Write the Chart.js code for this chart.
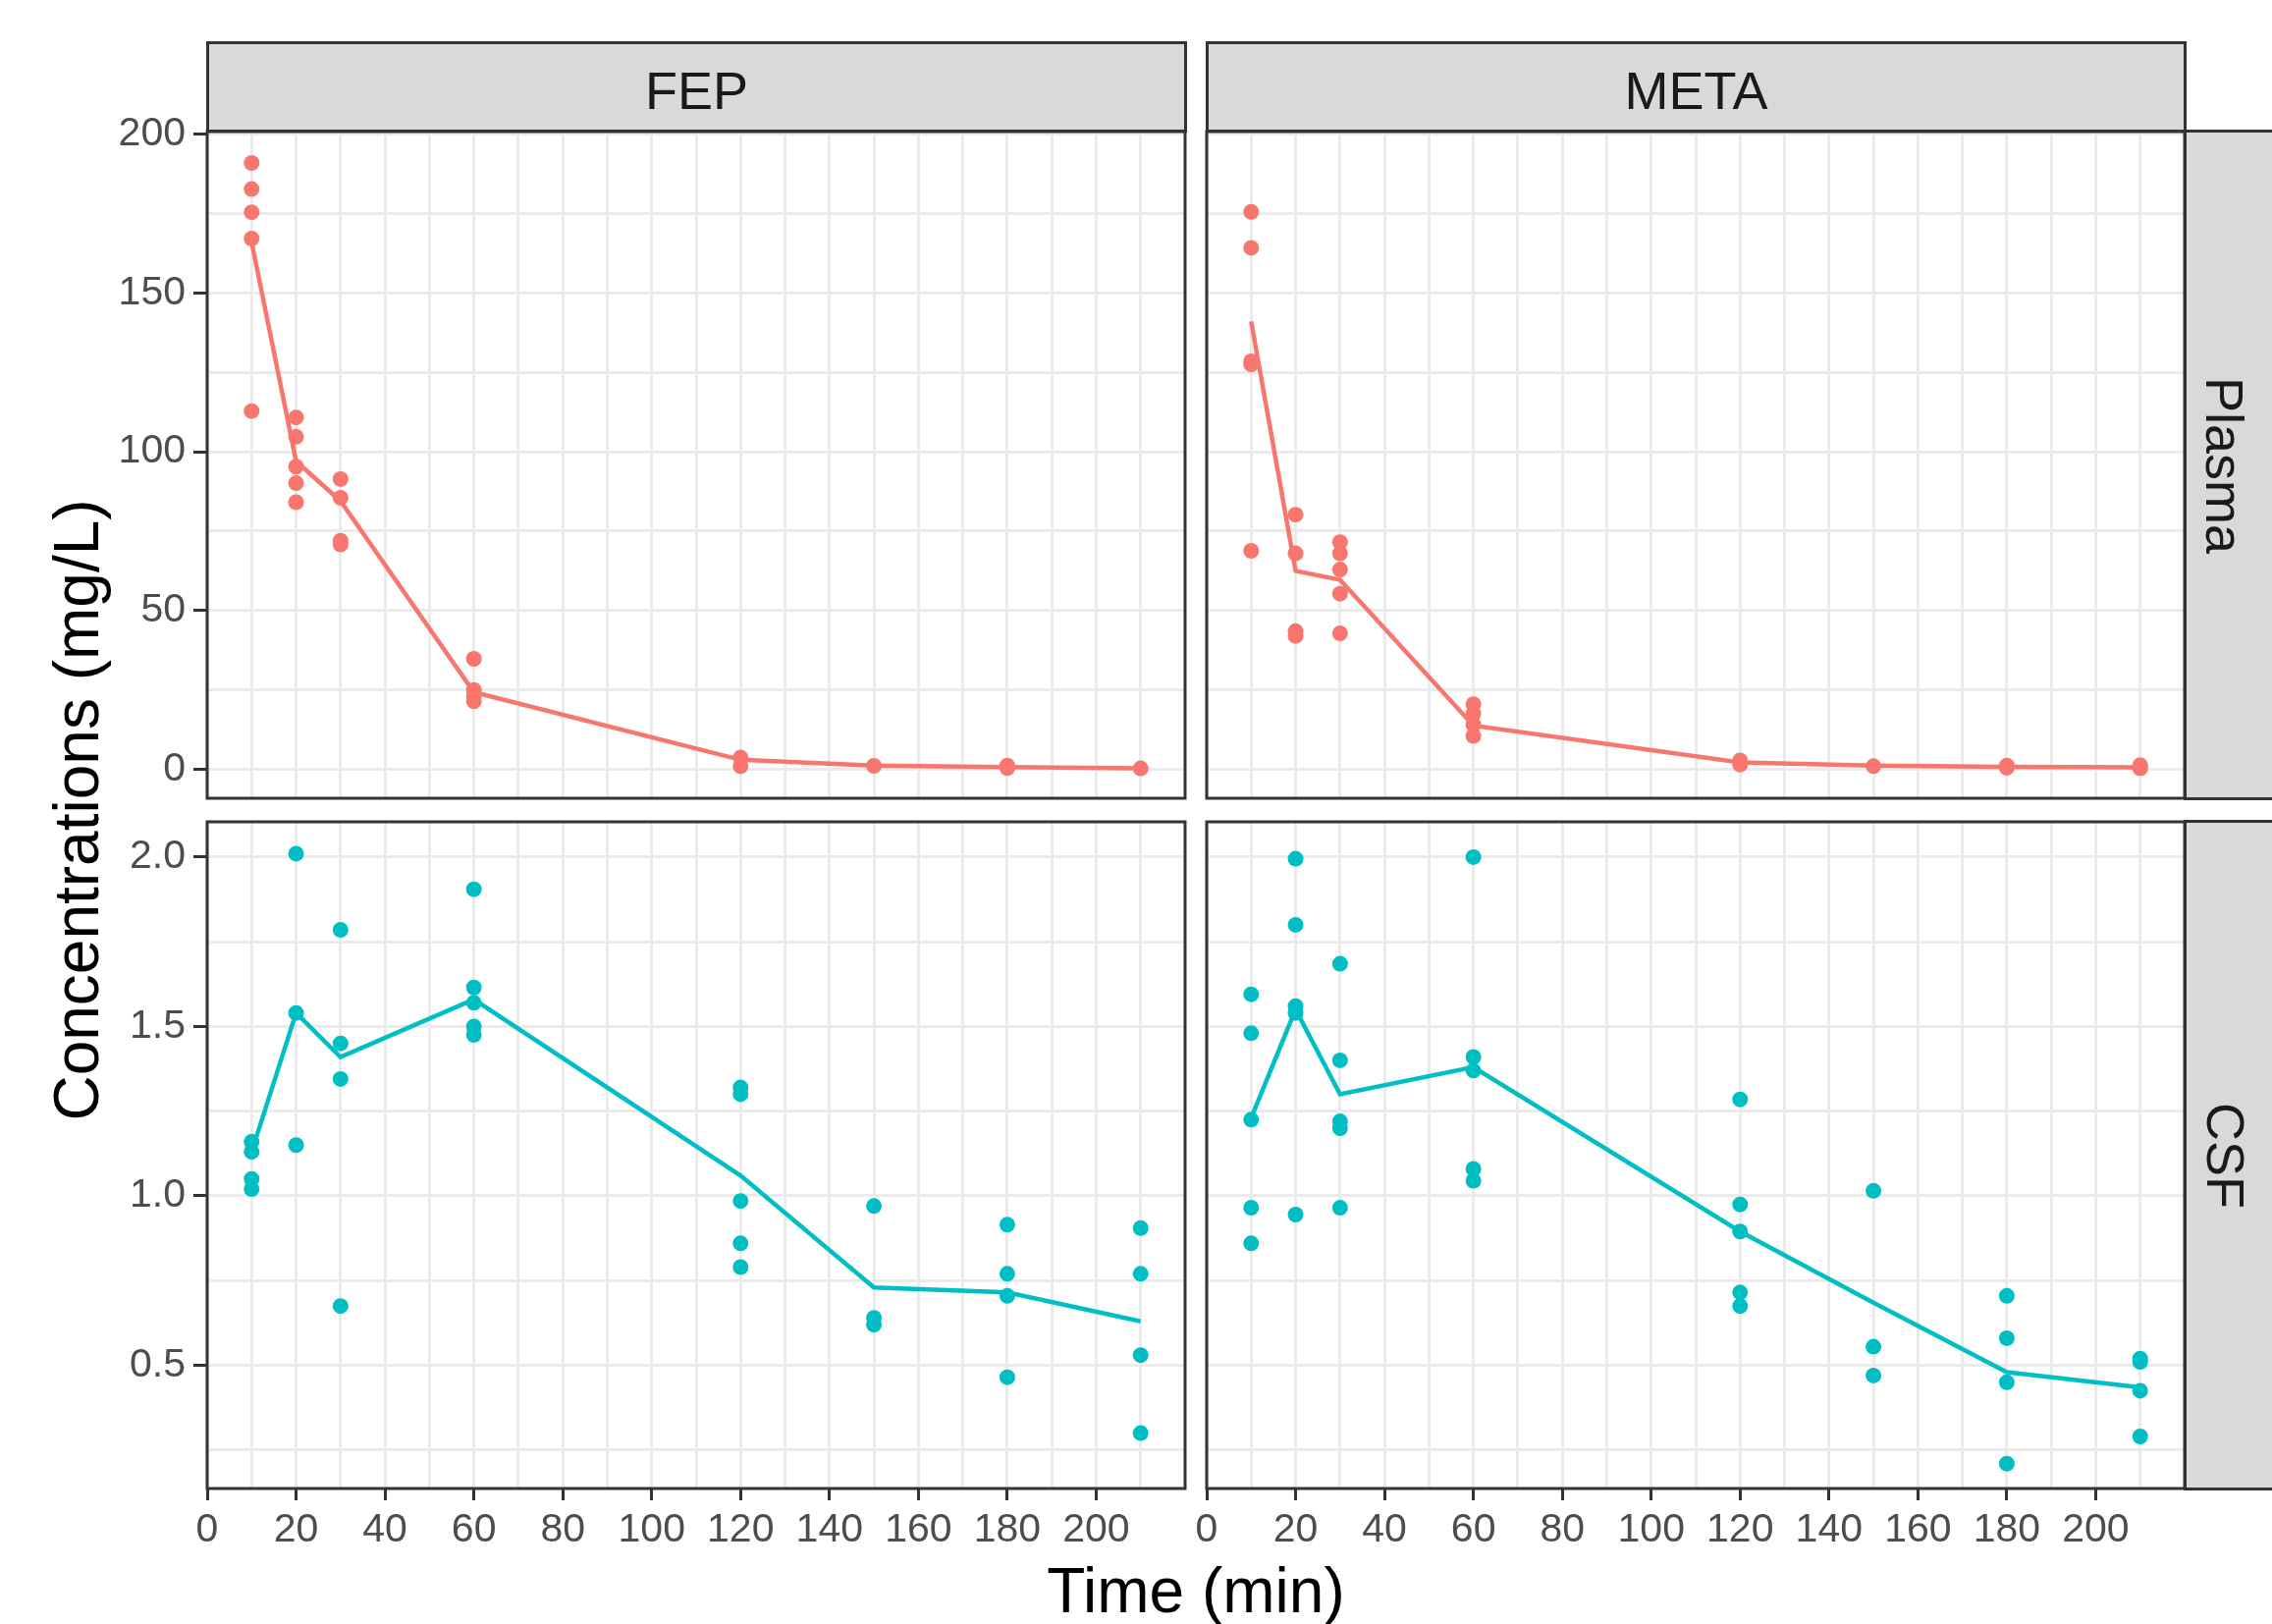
<!DOCTYPE html>
<html>
<head>
<meta charset="utf-8">
<title>FEP and META concentrations</title>
<script src="https://cdn.jsdelivr.net/npm/chart.js@4.4.1/dist/chart.umd.min.js"></script>
<style>
  html, body { margin: 0; padding: 0; background: #fff; }
  body { width: 2314px; height: 1654px; position: relative; overflow: hidden;
         font-family: "Liberation Sans", Arial, sans-serif; }
  canvas.panel { position: absolute; left: 0; top: 0; }
  .strip { position: absolute; box-sizing: border-box; background: #d9d9d9; border: 3px solid #333;
           display: flex; align-items: center; justify-content: center; color: #1a1a1a; font-size: 54px; }
  .strip.top { padding-top: 7px; }
  .strip.side { padding-right: 11px; }
  .strip.side span { transform: rotate(90deg); white-space: nowrap; }
  .title { position: absolute; color: #000; font-size: 64px; line-height: 1; white-space: nowrap; text-align: center; }
</style>
</head>
<body>
<canvas class="panel" id="fepPlasma" width="2314" height="1654"></canvas>
<canvas class="panel" id="metaPlasma" width="2314" height="1654"></canvas>
<canvas class="panel" id="fepCsf" width="2314" height="1654"></canvas>
<canvas class="panel" id="metaCsf" width="2314" height="1654"></canvas>

<div class="strip top" style="left:210px;top:42px;width:999px;height:93px">FEP</div>
<div class="strip top" style="left:1228px;top:42px;width:999px;height:93px">META</div>
<div class="strip side" style="left:2224px;top:132px;width:96px;height:683px"><span>Plasma</span></div>
<div class="strip side" style="left:2224px;top:835px;width:96px;height:683px"><span>CSF</span></div>

<div class="title" style="left:211px;width:2014px;top:1588px">Time (min)</div>
<div class="title" style="left:-622px;width:1400px;top:793px;transform:rotate(-90deg)">Concentrations (mg/L)</div>

<script>
// sampling times (min)
const times = [10, 20, 30, 60, 120, 150, 180, 210];

// observed concentrations, one inner list per sampling time
const fepPlasma = [
  [190.9, 182.7, 175.4, 167.1, 112.8],
  [110.8, 104.7, 95.3, 90.1, 84.1],
  [91.4, 85.5, 72.0, 70.8],
  [34.8, 25.0, 23.0, 21.4],
  [3.7, 1.0],
  [1.1],
  [1.2, 0.4],
  [0.3]
];
const fepPlasmaMean = [166, 97, 84.5, 24.3, 3.0, 1.2, 0.7, 0.3];

const metaPlasma = [
  [175.5, 164.2, 128.5, 127.5, 68.8],
  [80.2, 68.0, 43.5, 42.0],
  [71.5, 68.0, 62.9, 55.3, 42.8],
  [20.5, 17.5, 14.0, 10.5],
  [2.8, 1.5],
  [1.0],
  [1.2, 0.5],
  [1.3, 0.3]
];
const metaPlasmaMean = [141, 62.5, 59.7, 13.8, 2.2, 1.2, 0.8, 0.6];

const fepCsf = [
  [1.16, 1.13, 1.05, 1.02],
  [2.01, 1.54, 1.15],
  [1.785, 1.45, 1.345, 0.675],
  [1.905, 1.615, 1.57, 1.50, 1.475],
  [1.32, 1.30, 0.985, 0.86, 0.79],
  [0.97, 0.64, 0.62],
  [0.915, 0.77, 0.705, 0.465],
  [0.905, 0.77, 0.53, 0.30]
];
const fepCsfMean = [1.13, 1.54, 1.41, 1.58, 1.06, 0.73, 0.715, 0.63];

const metaCsf = [
  [1.595, 1.48, 1.225, 0.965, 0.86],
  [1.995, 1.80, 1.56, 1.54, 0.945],
  [1.685, 1.40, 1.22, 1.20, 0.965],
  [2.00, 1.41, 1.37, 1.08, 1.045],
  [1.285, 0.975, 0.895, 0.715, 0.675],
  [1.015, 0.555, 0.47],
  [0.705, 0.58, 0.45, 0.21],
  [0.52, 0.51, 0.425, 0.29]
];
const metaCsfMean = [1.23, 1.55, 1.30, 1.38, 0.895, 0.685, 0.48, 0.435];

// axes
const xRange = [0, 220];
const xMajor = [0, 20, 40, 60, 80, 100, 120, 140, 160, 180, 200];
const xLabels = ['0', '20', '40', '60', '80', '100', '120', '140', '160', '180', '200'];
const xMinor = [10, 30, 50, 70, 90, 110, 130, 150, 170, 190, 210];

const plasmaRange = [-9.1, 200.8];
const plasmaMajor = [0, 50, 100, 150, 200];
const plasmaLabels = ['0', '50', '100', '150', '200'];
const plasmaMinor = [25, 75, 125, 175];

const csfRange = [0.1365, 2.104];
const csfMajor = [0.5, 1.0, 1.5, 2.0];
const csfLabels = ['0.5', '1.0', '1.5', '2.0'];
const csfMinor = [0.25, 0.75, 1.25, 1.75];

const RED = '#F8766D';
const TEAL = '#00BFC4';
const W = 2314, H = 1654;
const Y_AXIS_W = 200;   // room for y tick labels left of the panel
const X_AXIS_H = 100;   // room for x tick labels under the panel

Chart.defaults.font.family = '"Liberation Sans", Arial, sans-serif';

const sameVal = (a, b) => Math.abs(a - b) < 1e-9;

// draws the dark frame around each panel, on top of the data like ggplot
const panelFrame = {
  id: 'panelFrame',
  afterDatasetsDraw(chart) {
    const a = chart.chartArea;
    const ctx = chart.ctx;
    ctx.save();
    ctx.strokeStyle = '#333333';
    ctx.lineWidth = 3;
    ctx.strokeRect(a.left, a.top, a.right - a.left, a.bottom - a.top);
    ctx.restore();
  }
};

function axis(range, major, minor, labels, showLabels, size, tickLen, pad) {
  return {
    type: 'linear',
    min: range[0],
    max: range[1],
    afterBuildTicks: (scale) => {
      scale.ticks = major.concat(minor).sort((a, b) => a - b).map(v => ({ value: v }));
    },
    afterFit: (scale) => {
      if (scale.isHorizontal()) scale.height = size; else scale.width = size;
    },
    border: { display: false },
    grid: {
      color: '#EBEBEB',
      lineWidth: 3,
      drawTicks: showLabels,
      tickLength: tickLen,
      tickWidth: 3,
      tickColor: (ctx) => major.some(m => sameVal(m, ctx.tick.value)) ? '#333333' : 'rgba(0,0,0,0)'
    },
    ticks: {
      display: showLabels,
      autoSkip: false,
      maxRotation: 0,
      padding: pad,
      color: '#4D4D4D',
      font: { size: 41 },
      callback: (v) => {
        const i = major.findIndex(m => sameVal(m, v));
        return i >= 0 ? labels[i] : '';
      }
    }
  };
}

function makePanel(id, rect, obs, mean, color, yAxis, showX, showY) {
  const pts = [];
  times.forEach((t, i) => obs[i].forEach(v => pts.push({ x: t, y: v })));
  const line = times.map((t, i) => ({ x: t, y: mean[i] }));
  const xSize = showX ? X_AXIS_H : 0;
  const ySize = showY ? Y_AXIS_W : 0;

  new Chart(document.getElementById(id), {
    type: 'scatter',
    data: {
      datasets: [
        { data: pts, backgroundColor: color, borderWidth: 0, pointRadius: 8, pointHoverRadius: 8 },
        { data: line, showLine: true, borderColor: color, borderWidth: 4.5, pointRadius: 0, fill: false, tension: 0 }
      ]
    },
    options: {
      responsive: false,
      animation: false,
      devicePixelRatio: 1,
      layout: {
        autoPadding: false,
        padding: { left: rect[0] - ySize, top: rect[1], right: W - rect[2], bottom: H - rect[3] - xSize }
      },
      plugins: { legend: { display: false }, tooltip: { enabled: false } },
      scales: {
        x: Object.assign({ position: 'bottom' }, axis(xRange, xMajor, xMinor, xLabels, showX, xSize, 12, 6)),
        y: Object.assign({ position: 'left' }, axis(yAxis[0], yAxis[1], yAxis[2], yAxis[3], showY, ySize, 14, 8))
      }
    },
    plugins: [panelFrame]
  });
}

const plasmaAxis = [plasmaRange, plasmaMajor, plasmaMinor, plasmaLabels];
const csfAxis = [csfRange, csfMajor, csfMinor, csfLabels];

makePanel('fepPlasma', [211, 134, 1207, 813], fepPlasma, fepPlasmaMean, RED, plasmaAxis, false, true);
makePanel('metaPlasma', [1229, 134, 2225, 813], metaPlasma, metaPlasmaMean, RED, plasmaAxis, false, false);
makePanel('fepCsf', [211, 837, 1207, 1516], fepCsf, fepCsfMean, TEAL, csfAxis, true, true);
makePanel('metaCsf', [1229, 837, 2225, 1516], metaCsf, metaCsfMean, TEAL, csfAxis, true, false);
</script>
</body>
</html>
